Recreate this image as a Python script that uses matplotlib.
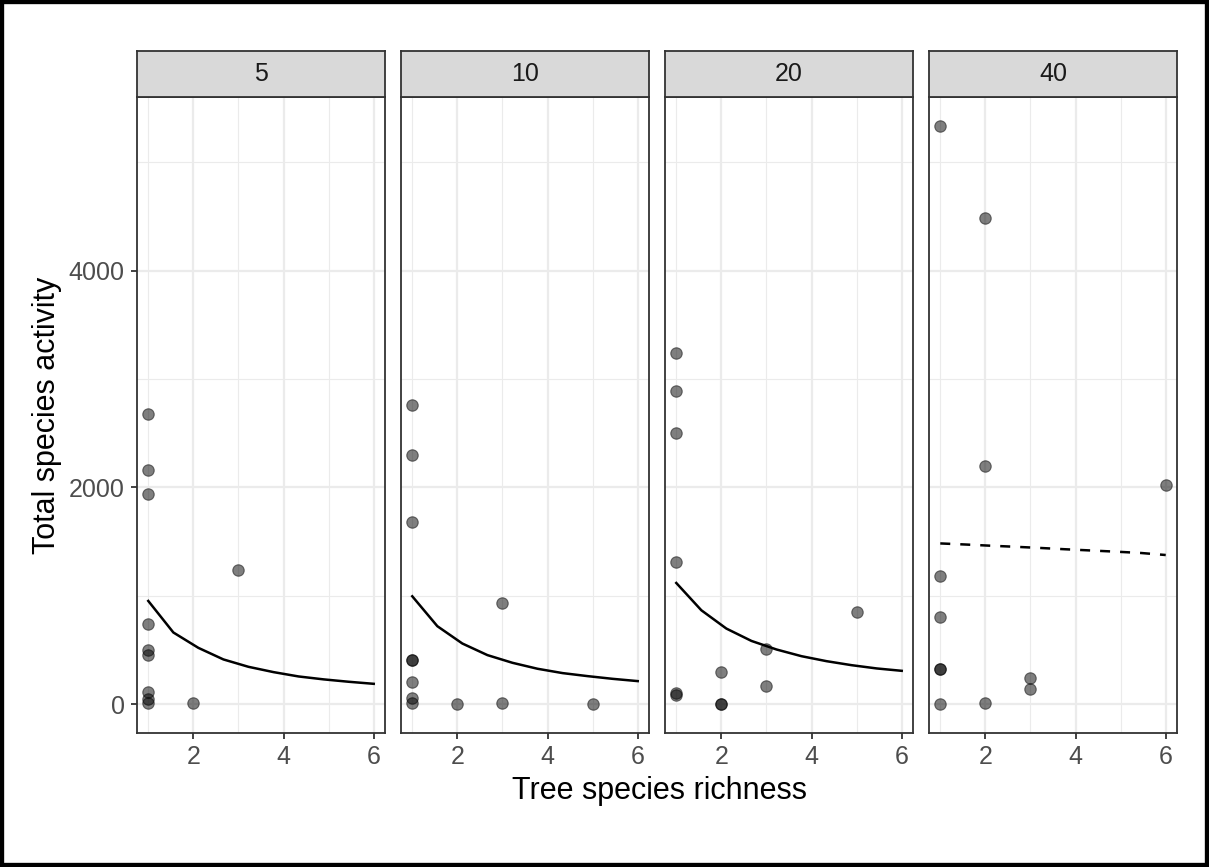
import matplotlib
matplotlib.use('Agg')
import matplotlib.pyplot as plt
from matplotlib.patches import Rectangle

plt.rcParams['font.family'] = ['Liberation Sans', 'DejaVu Sans']

# Facet labels
facets = ['5', '10', '20', '40']

# Observed points: tree species richness vs total species activity
rich_5 = [1, 1, 1, 1, 1, 1, 1, 1, 1, 2, 3]
act_5 = [2680, 2160, 1935, 740, 495, 455, 115, 50, 8, 12, 1235]

rich_10 = [1, 1, 1, 1, 1, 1, 1, 1, 2, 3, 3, 5]
act_10 = [2762, 2295, 1680, 405, 405, 206, 52, 6, 0, 937, 12, 0]

rich_20 = [1, 1, 1, 1, 1, 1, 2, 2, 2, 3, 3, 5]
act_20 = [3241, 2891, 2504, 1312, 99, 80, 298, 0, 0, 504, 169, 854]

rich_40 = [1, 1, 1, 1, 1, 1, 2, 2, 2, 3, 3, 6]
act_40 = [5337, 1180, 808, 322, 322, 0, 4487, 2195, 11, 238, 142, 2019]

# Model predictions
fit_x = [1, 1.556, 2.111, 2.667, 3.222, 3.778, 4.333, 4.889, 5.444, 6]
fit_5 = [952, 661, 519, 412, 344, 295, 255, 228, 206, 187]
fit_10 = [995, 719, 559, 452, 381, 326, 286, 258, 233, 212]
fit_20 = [1118, 866, 697, 583, 504, 442, 396, 359, 329, 307]
fit_40 = [1483, 1473, 1462, 1452, 1441, 1429, 1418, 1407, 1395, 1376]

points = [(rich_5, act_5), (rich_10, act_10), (rich_20, act_20), (rich_40, act_40)]
fits = [fit_5, fit_10, fit_20, fit_40]
fit_styles = ['-', '-', '-', (0, (4, 4))]

W, H = 1209, 867
fig = plt.figure(figsize=(W / 100, H / 100), dpi=100)

panel_left = [137, 401, 665, 929]
panel_w = 248
panel_top, panel_bottom = 97, 733
strip_top = 51

dark = '#333333'
grid_c = '#EBEBEB'
tick_c = '#4D4D4D'

for i, name in enumerate(facets):
    l = panel_left[i]
    ax = fig.add_axes([l / W, 1 - panel_bottom / H, panel_w / W, (panel_bottom - panel_top) / H])
    ax.set_xlim(0.75, 6.25)
    ax.set_ylim(-267, 5604)
    ax.set_xticks([2, 4, 6])
    ax.set_xticks([1, 3, 5], minor=True)
    ax.set_yticks([0, 2000, 4000])
    ax.set_yticks([1000, 3000, 5000], minor=True)
    ax.grid(True, which='major', color=grid_c, lw=1.6, zorder=0)
    ax.grid(True, which='minor', color=grid_c, lw=0.8, zorder=0)
    ax.set_axisbelow(True)
    for s in ax.spines.values():
        s.set_color(dark)
        s.set_linewidth(1.3)
    ax.tick_params(which='major', length=4.5, width=1.3, color=dark,
                   labelsize=18, labelcolor=tick_c, pad=4.5)
    ax.tick_params(which='minor', length=0)
    if i > 0:
        ax.tick_params(axis='y', labelleft=False, length=0)

    xs, ys = points[i]
    ax.scatter(xs, ys, s=68, facecolor=(0, 0, 0, 0.5), edgecolor=(0, 0, 0, 0.5),
               linewidth=0.8, zorder=3)
    ax.plot(fit_x, fits[i], color='black', lw=1.8, linestyle=fit_styles[i], zorder=2)

    # strip
    sax = fig.add_axes([l / W, 1 - panel_top / H, panel_w / W, (panel_top - strip_top) / H])
    sax.set_facecolor('#D9D9D9')
    sax.set_xticks([])
    sax.set_yticks([])
    for s in sax.spines.values():
        s.set_color(dark)
        s.set_linewidth(1.3)
    sax.text(0.5, 0.5, name, ha='center', va='center', fontsize=18, color='#1A1A1A',
             transform=sax.transAxes)

fig.text(659 / W, 1 - 791 / H, 'Tree species richness', ha='center', va='center',
         fontsize=22, color='black')
fig.text(47 / W, 1 - 415 / H, 'Total species activity', ha='center', va='center',
         rotation=90, fontsize=22, color='black')

fig.patches.append(Rectangle((0, 0), 1, 1, transform=fig.transFigure, fill=False,
                             edgecolor='black', lw=6))

fig.savefig('out.png', dpi=100)
